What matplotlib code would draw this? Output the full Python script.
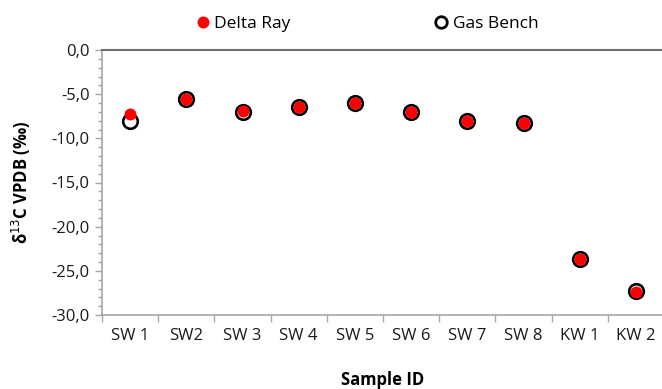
import matplotlib.pyplot as plt
from matplotlib.ticker import MultipleLocator, FuncFormatter
from matplotlib.lines import Line2D

samples = ['SW 1', 'SW2', 'SW 3', 'SW 4', 'SW 5', 'SW 6', 'SW 7', 'SW 8', 'KW 1', 'KW 2']
delta_ray = [-7.3, -5.6, -6.9, -6.5, -6.0, -7.0, -8.0, -8.3, -23.7, -27.4]
gas_bench = [-8.0, -5.6, -7.0, -6.5, -6.0, -7.0, -8.0, -8.3, -23.7, -27.3]

plt.rcParams['font.family'] = ['Open Sans', 'DejaVu Sans']

fig = plt.figure(figsize=(6.62, 3.89), dpi=100)
ax = fig.add_axes([102 / 662, 1 - 315 / 389, 562 / 662, 265 / 389])

x = list(range(len(samples)))
ax.plot(x, gas_bench, linestyle='none', marker='o', markersize=10.5,
        markerfacecolor='white', markeredgecolor='black', markeredgewidth=1.9, zorder=3)
ax.plot(x, delta_ray, linestyle='none', marker='o', markersize=8.6,
        markerfacecolor='#ff0000', markeredgecolor='none', zorder=4)

ax.set_xlim(-0.5, len(samples) - 0.5)
ax.set_ylim(-30, 0)
ax.set_xticks(x)
ax.set_xticklabels(samples)
ax.set_xticks([i - 0.5 for i in range(len(samples) + 1)], minor=True)
ax.tick_params(axis='x', which='major', length=0, pad=9, labelsize=12, colors='#1a1a1a')
ax.tick_params(axis='x', which='minor', length=5, color='#a6a6a6', width=1)

ax.yaxis.set_major_locator(MultipleLocator(5))
ax.yaxis.set_minor_locator(MultipleLocator(1))
ax.yaxis.set_major_formatter(FuncFormatter(lambda v, p: f"{v:.1f}".replace('.', ',')))
ax.tick_params(axis='y', which='major', length=5, color='#a6a6a6', width=1, labelsize=12,
               labelcolor='#1a1a1a', pad=4)
ax.tick_params(axis='y', which='minor', length=3, color='#a6a6a6', width=1)

for side in ['left', 'bottom']:
    ax.spines[side].set_color('#a6a6a6')
    ax.spines[side].set_linewidth(1.2)
ax.spines['top'].set_color('#6e6e6e')
ax.spines['top'].set_linewidth(1.5)
ax.spines['right'].set_visible(False)

ax.set_ylabel('δ$^{13}$C VPDB (‰)', fontsize=12, fontweight='bold', labelpad=13)
ax.set_xlabel('Sample ID', fontsize=12, fontweight='bold', labelpad=20)

handles = [
    Line2D([], [], linestyle='none', marker='o', markersize=8.6,
           markerfacecolor='#ff0000', markeredgecolor='none', label='Delta Ray'),
    Line2D([], [], linestyle='none', marker='o', markersize=8.3,
           markerfacecolor='white', markeredgecolor='black', markeredgewidth=2.0, label='Gas Bench'),
]
fig.legend(handles=handles, loc='center', bbox_to_anchor=(0.553, 1 - 24 / 389), ncol=2,
           frameon=False, fontsize=12.5, handletextpad=0.15, columnspacing=8.2, handlelength=1.0)

fig.savefig('out.png', dpi=100)
